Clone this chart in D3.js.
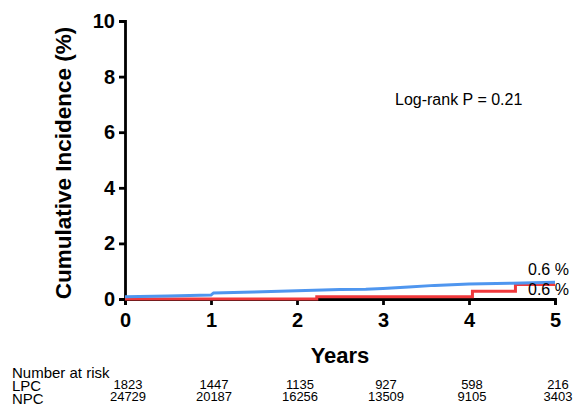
<!DOCTYPE html>
<html>
<head>
<meta charset="utf-8">
<script src="https://cdn.jsdelivr.net/npm/d3@7"></script>
<style>
  body { margin: 0; background: #fff; }
  text { font-family: "Liberation Sans", Arial, sans-serif; }
</style>
</head>
<body>
<div id="chart"></div>
<script>
// cumulative incidence (%)
var npcTimes  = [0, 0.5, 1.0, 1.03, 1.5, 2.0, 2.5, 2.8, 3.0, 3.3, 3.6, 4.0, 4.5, 5.0];
var npcValues = [0.08, 0.11, 0.14, 0.22, 0.25, 0.30, 0.34, 0.35, 0.38, 0.43, 0.49, 0.54, 0.57, 0.60];
var lpcTimes  = [0, 2.23, 4.04, 4.54, 5.0];
var lpcValues = [0, 0.08, 0.28, 0.52, 0.52];

var yearTicks = [0, 1, 2, 3, 4, 5];
var yTicks = [0, 2, 4, 6, 8, 10];
var riskLPC = [1823, 1447, 1135, 927, 598, 216];
var riskNPC = [24729, 20187, 16256, 13509, 9105, 3403];
var endLabels = ["0.6 %", "0.6 %"];

var width = 577, height = 405;

var svg = d3.select("#chart").append("svg")
    .attr("width", width)
    .attr("height", height);

var x = d3.scaleLinear().domain([0, 5]).range([125, 555]);
var y = d3.scaleLinear().domain([0, 10]).range([299, 21]);

// axes
var xAxis = d3.axisBottom(x).tickValues(yearTicks).tickSize(6).tickPadding(8).tickFormat(d3.format("d"));
var yAxis = d3.axisLeft(y).tickValues(yTicks).tickSize(6).tickPadding(4).tickFormat(d3.format("d"));

var gx = svg.append("g")
    .attr("transform", "translate(0," + y(0) + ")")
    .call(xAxis);
var gy = svg.append("g")
    .attr("transform", "translate(" + x(0) + ",0)")
    .call(yAxis);

[gx, gy].forEach(function (g) {
    g.select(".domain").attr("stroke", "#000").attr("stroke-width", 2.8);
    g.selectAll(".tick line").attr("stroke", "#000").attr("stroke-width", 2.8);
    g.selectAll(".tick text")
        .attr("fill", "#000")
        .style("font-family", "'Liberation Sans', Arial, sans-serif")
        .style("font-size", "20px")
        .style("font-weight", "bold");
});

// axis titles
svg.append("text")
    .attr("transform", "translate(71," + ((y(0) + y(10)) / 2 + 3) + ") rotate(-90)")
    .attr("text-anchor", "middle")
    .style("font-size", "22.5px")
    .style("font-weight", "bold")
    .text("Cumulative Incidence (%)");

svg.append("text")
    .attr("x", (x(0) + x(5)) / 2)
    .attr("y", 363)
    .attr("text-anchor", "middle")
    .style("font-size", "22px")
    .style("font-weight", "bold")
    .text("Years");

// curves
var line = d3.line()
    .x(function (d) { return x(d[0]); })
    .y(function (d) { return y(d[1]); });

var npcData = npcTimes.map(function (t, i) { return [t, npcValues[i]]; });
var lpcData = lpcTimes.map(function (t, i) { return [t, lpcValues[i]]; });

svg.append("path")
    .datum(lpcData)
    .attr("d", line.curve(d3.curveStepAfter))
    .attr("fill", "none")
    .attr("stroke", "#f0393c")
    .attr("stroke-width", 3);

svg.append("path")
    .datum(npcData)
    .attr("d", line.curve(d3.curveLinear))
    .attr("fill", "none")
    .attr("stroke", "#4f96ef")
    .attr("stroke-width", 3);

// end labels
svg.append("text")
    .attr("x", 528).attr("y", 275)
    .style("font-size", "16px")
    .text(endLabels[0]);
svg.append("text")
    .attr("x", 528).attr("y", 295)
    .style("font-size", "16px")
    .text(endLabels[1]);

svg.append("text")
    .attr("x", 395).attr("y", 105)
    .style("font-size", "16px")
    .text("Log-rank P = 0.21");

// number at risk table
svg.append("text").attr("x", 12).attr("y", 378).style("font-size", "15px").text("Number at risk");
svg.append("text").attr("x", 12).attr("y", 391).style("font-size", "15px").text("LPC");
svg.append("text").attr("x", 12).attr("y", 404).style("font-size", "15px").text("NPC");

svg.selectAll(".risk-lpc")
    .data(riskLPC)
    .enter().append("text")
    .attr("class", "risk-lpc")
    .attr("x", function (d, i) { return x(yearTicks[i]) + 3; })
    .attr("y", 389)
    .attr("text-anchor", "middle")
    .style("font-size", "13px")
    .text(function (d) { return d; });

svg.selectAll(".risk-npc")
    .data(riskNPC)
    .enter().append("text")
    .attr("class", "risk-npc")
    .attr("x", function (d, i) { return x(yearTicks[i]) + 3; })
    .attr("y", 401)
    .attr("text-anchor", "middle")
    .style("font-size", "13px")
    .text(function (d) { return d; });
</script>
</body>
</html>
